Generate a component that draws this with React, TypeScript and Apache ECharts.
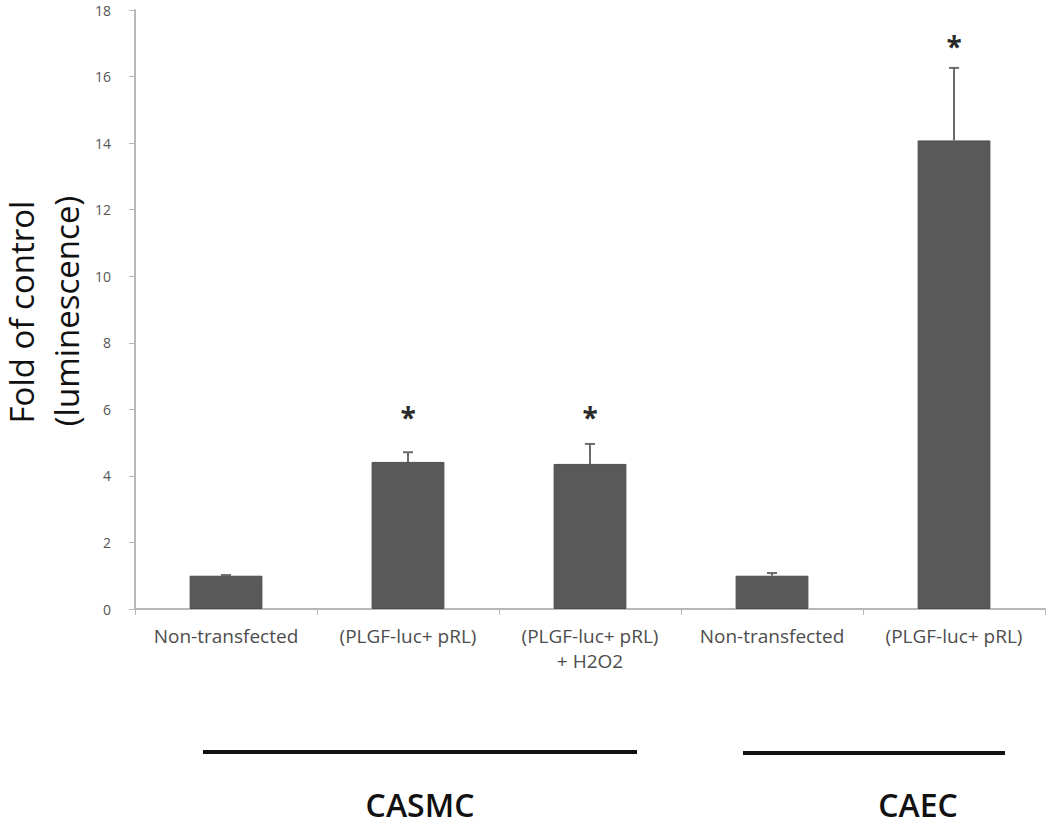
import React, { useEffect, useRef } from "react";
import * as echarts from "echarts";

const categories = [
  "Non-transfected",
  "(PLGF-luc+ pRL)",
  "(PLGF-luc+ pRL)\n+ H2O2",
  "Non-transfected",
  "(PLGF-luc+ pRL)",
];
const foldValues = [1.0, 4.42, 4.36, 1.0, 14.08];
const errorValues = [0.02, 0.29, 0.6, 0.08, 2.18];
const significanceY = [null, 6.0, 6.0, null, 17.15];
const groupNames = ["CASMC", "CAEC"];
const yAxisTitleLines = ["Fold of control", "(luminescence)"];

export default function App() {
  const ref = useRef<HTMLDivElement>(null);
  useEffect(() => {
    document.body.style.margin = "0";
    const chart = echarts.init(ref.current!, null, { renderer: "svg" });
    chart.setOption({
      animation: false,
      backgroundColor: "#ffffff",
      grid: {
        left: 135,
        right: 5,
        top: 10,
        bottom: 218,
        containLabel: false,
        outerBoundsMode: "none",
      },
      xAxis: {
        type: "category",
        data: categories,
        axisLine: { lineStyle: { color: "#b8b8b8", width: 2 } },
        axisTick: { show: true, alignWithLabel: false, length: 6, lineStyle: { color: "#b8b8b8" } },
        axisLabel: {
          color: "#4d4d4d",
          fontFamily: "Open Sans",
          fontSize: 19,
          margin: 14,
          lineHeight: 25,
          interval: 0,
        },
      },
      yAxis: {
        type: "value",
        min: 0,
        max: 18,
        interval: 2,
        axisLine: { show: true, lineStyle: { color: "#b8b8b8", width: 2 } },
        axisTick: { show: true, length: 6, lineStyle: { color: "#b8b8b8" } },
        splitLine: { show: false },
        axisLabel: { color: "#555", fontFamily: "Open Sans", fontSize: 14, margin: 24 },
      },
      series: [
        {
          type: "bar",
          data: foldValues,
          barWidth: "40%",
          itemStyle: { color: "#595959", borderColor: "#4d4d4d", borderWidth: 1 },
        },
        {
          type: "custom",
          data: foldValues.map((v, i) => [i, v, v + errorValues[i]]),
          z: 3,
          renderItem: (params: any, api: any) => {
            const x = api.value(0);
            const base = api.coord([x, api.value(1)]);
            const top = api.coord([x, api.value(2)]);
            const style = { stroke: "#6a6a6a", lineWidth: 2 };
            return {
              type: "group",
              children: [
                { type: "line", shape: { x1: base[0], y1: base[1], x2: top[0], y2: top[1] }, style },
                { type: "line", shape: { x1: top[0] - 5, y1: top[1], x2: top[0] + 5, y2: top[1] }, style },
              ],
            };
          },
        },
        {
          type: "custom",
          data: significanceY
            .map((v, i) => (v == null ? null : [i, v]))
            .filter((d) => d != null),
          renderItem: (params: any, api: any) => {
            const p = api.coord([api.value(0), api.value(1)]);
            return {
              type: "text",
              x: p[0],
              y: p[1] + 8,
              style: {
                text: "*",
                fill: "#2a2a2a",
                font: "bold 28px 'Open Sans'",
                align: "center",
                verticalAlign: "middle",
              },
            };
          },
        },
      ],
      graphic: [
        {
          type: "text",
          x: 21,
          y: 312,
          rotation: Math.PI / 2,
          style: {
            text: yAxisTitleLines[0],
            fill: "#111",
            font: "33px 'Open Sans'",
            align: "center",
            verticalAlign: "middle",
          },
        },
        {
          type: "text",
          x: 66,
          y: 311,
          rotation: Math.PI / 2,
          style: {
            text: yAxisTitleLines[1],
            fill: "#111",
            font: "33px 'Open Sans'",
            align: "center",
            verticalAlign: "middle",
          },
        },
        { type: "line", shape: { x1: 203, y1: 752, x2: 637, y2: 752 }, style: { stroke: "#111", lineWidth: 4 } },
        { type: "line", shape: { x1: 743, y1: 753, x2: 1005, y2: 753 }, style: { stroke: "#111", lineWidth: 4 } },
        {
          type: "text",
          x: 420,
          y: 804,
          style: {
            text: groupNames[0],
            fill: "#111",
            font: "600 32px 'Open Sans'",
            lineHeight: 32,
            align: "center",
            verticalAlign: "middle",
          },
        },
        {
          type: "text",
          x: 918,
          y: 804,
          style: {
            text: groupNames[1],
            fill: "#111",
            font: "600 32px 'Open Sans'",
            lineHeight: 32,
            align: "center",
            verticalAlign: "middle",
          },
        },
      ],
    });
    return () => chart.dispose();
  }, []);
  return <div ref={ref} style={{ width: 1050, height: 827 }} />;
}
